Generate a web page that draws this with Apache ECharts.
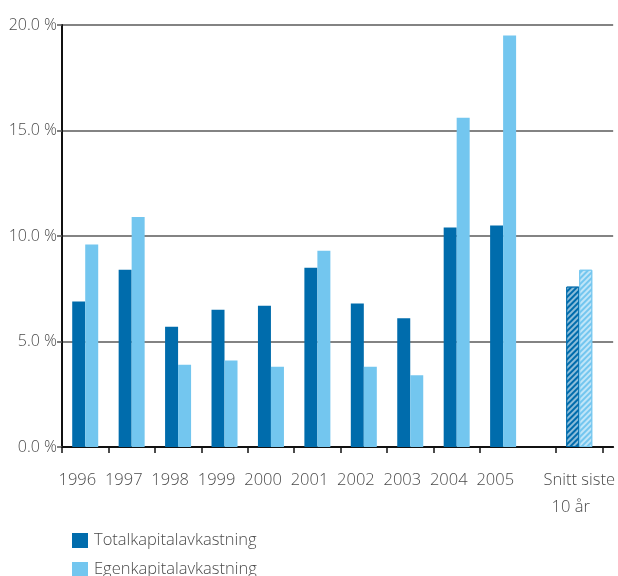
<!DOCTYPE html>
<html>
<head>
<meta charset="utf-8">
<script src="https://cdn.jsdelivr.net/npm/echarts@6/dist/echarts.min.js"></script>
<style>
  html, body { margin: 0; padding: 0; background: #fff; }
  #chart { width: 618px; height: 576px; }
</style>
</head>
<body>
<div id="chart"></div>
<script>
// Return on capital, per year, and ten-year average
const categories = ['1996', '1997', '1998', '1999', '2000', '2001', '2002', '2003', '2004', '2005', 'Snitt siste\n10 år'];
const totalReturn = [6.9, 8.4, 5.7, 6.5, 6.7, 8.5, 6.8, 6.1, 10.4, 10.5, 7.6];
const equityReturn = [9.6, 10.9, 3.9, 4.1, 3.8, 9.3, 3.8, 3.4, 15.6, 19.5, 8.4];
const seriesNames = ['Totalkapitalavkastning', 'Egenkapitalavkastning'];
const yTicks = [0, 5, 10, 15, 20];

const DARK = '#006cac';
const LIGHT = '#73c6ef';
const FONT = '"Open Sans", sans-serif';
const TEXT = '#4a4a4a';

// Slot layout along x: ten yearly slots, a narrow spacer, then the average slot
const AVG_GAP = 0.64;
const X_MAX = 11.87;
const YEAR_LABEL_SHIFT = 0.17; // year labels sit slightly left of their slot centre
function slotStart(i) { return i < 10 ? i : 10 + AVG_GAP; }
function slotCenter(i) { return slotStart(i) + 0.5; }
const lastIdx = categories.length - 1;
const tickValues = [];
for (let i = 0; i < categories.length; i++) tickValues.push(slotStart(i));
tickValues.push(slotStart(lastIdx) + 1);
const labelValues = categories.map((c, i) => i === lastIdx ? slotCenter(i) : slotCenter(i) - YEAR_LABEL_SHIFT);

function labelFor(v) {
  const idx = labelValues.findIndex(x => Math.abs(x - v) < 1e-6);
  if (idx < 0) return '';
  const c = categories[idx];
  if (c.indexOf('\n') >= 0) {
    const parts = c.split('\n');
    return parts[0] + '\n{l2|' + parts[1] + '}';
  }
  return c;
}

function buildData(values, color) {
  return values.map((v, i) => {
    const item = { value: [slotCenter(i), v] };
    if (i === lastIdx) {
      item.itemStyle = {
        color: color,
        borderColor: color,
        borderWidth: 1,
        decal: {
          symbol: 'rect',
          dashArrayX: [1, 0],
          dashArrayY: [1.5, 1.5],
          rotation: -Math.PI / 4,
          color: 'rgba(255,255,255,0.55)'
        }
      };
    }
    return item;
  });
}

const labelText = { fontFamily: FONT, fontSize: 16.5, fontWeight: 300, color: TEXT, lineHeight: 27 };

const chart = echarts.init(document.getElementById('chart'), null, { renderer: 'canvas' });
chart.setOption({
  animation: false,
  aria: { enabled: false, decal: { show: false } },
  grid: { left: 62, right: 3, top: 25, bottom: 129, containLabel: false },
  legend: {
    orient: 'vertical',
    left: 72,
    top: 532,
    height: 80,
    padding: 0,
    itemWidth: 16,
    itemHeight: 15,
    itemGap: 12,
    icon: 'rect',
    textStyle: { fontFamily: FONT, fontSize: 16.5, color: TEXT, fontWeight: 300, padding: [0, 0, 0, 1] },
    data: seriesNames
  },
  xAxis: {
    type: 'value',
    min: 0,
    max: X_MAX,
    splitLine: { show: false },
    axisLine: { show: true, onZero: false, lineStyle: { color: '#111', width: 2 } },
    axisTick: { show: true, customValues: tickValues, length: 6, lineStyle: { color: '#111', width: 1.5 } },
    axisLabel: Object.assign({
      customValues: labelValues,
      formatter: labelFor,
      margin: 20,
      showMinLabel: true,
      showMaxLabel: true,
      hideOverlap: false,
      rich: {
        l2: Object.assign({ padding: [0, 17, 0, 0] }, labelText)
      }
    }, labelText)
  },
  yAxis: {
    type: 'value',
    min: yTicks[0],
    max: yTicks[yTicks.length - 1],
    interval: yTicks[1] - yTicks[0],
    axisLine: { show: true, lineStyle: { color: '#111', width: 2 } },
    axisTick: { show: true, length: 5, lineStyle: { color: '#555', width: 1.5 } },
    splitLine: { show: true, lineStyle: { color: '#5a5a5a', width: 1.5 } },
    axisLabel: {
      margin: 5,
      fontFamily: FONT,
      fontSize: 16,
      fontWeight: 300,
      color: TEXT,
      showMinLabel: true,
      showMaxLabel: true,
      formatter: v => v.toFixed(1) + ' %'
    }
  },
  series: [
    {
      name: seriesNames[0],
      type: 'bar',
      barWidth: 13,
      barGap: '0%',
      itemStyle: { color: DARK },
      data: buildData(totalReturn, DARK),
      z: 3
    },
    {
      name: seriesNames[1],
      type: 'bar',
      barWidth: 13,
      barGap: '0%',
      itemStyle: { color: LIGHT },
      data: buildData(equityReturn, LIGHT),
      z: 3
    }
  ]
});
</script>
</body>
</html>
